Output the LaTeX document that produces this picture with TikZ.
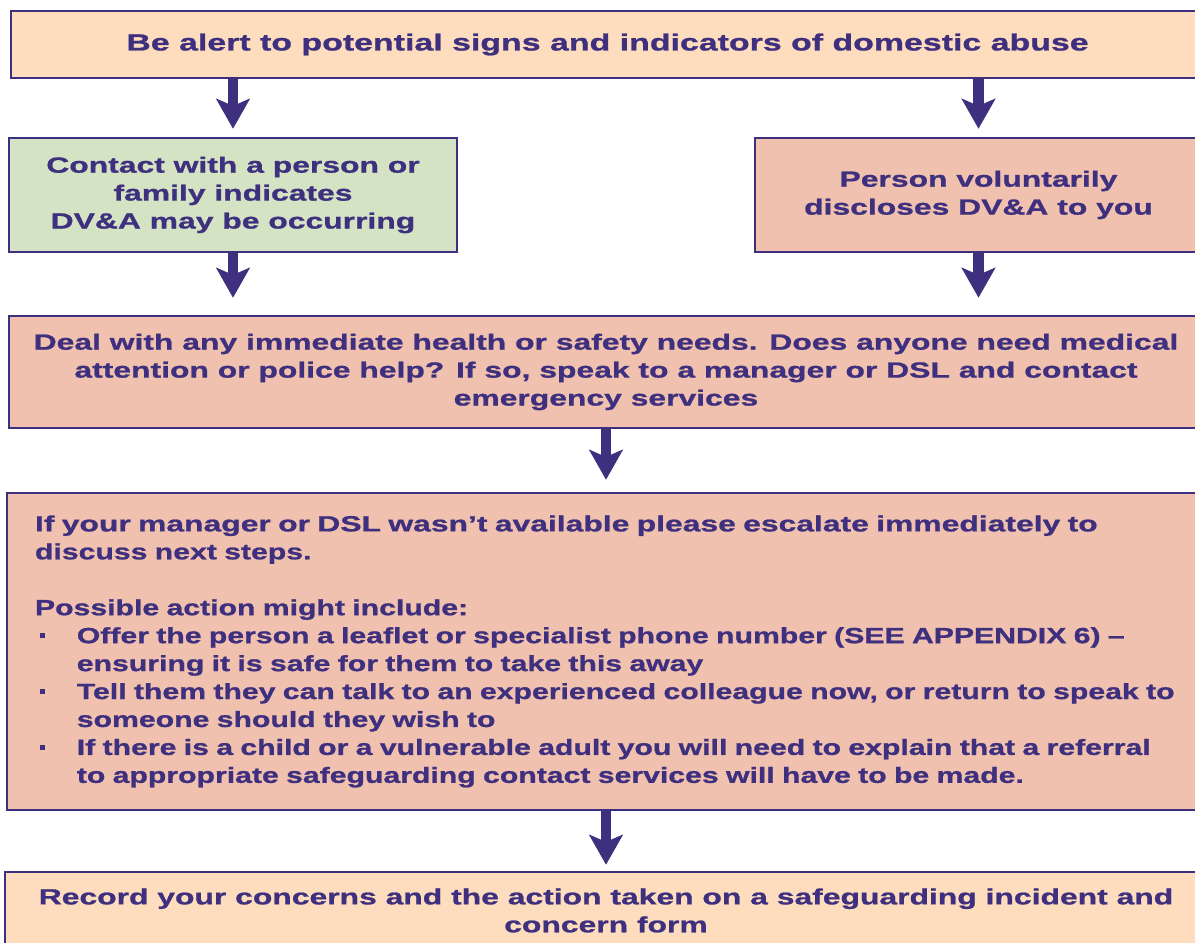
\documentclass[tikz,border=0pt]{standalone}
\usepackage{fontspec}
\newfontfamily\flowfont{Liberation Sans}[Ligatures=TeX, FakeStretch=1.45, FakeBold=1]
\newfontfamily\itemfont{Liberation Sans}[Ligatures=TeX, FakeStretch=1.375, FakeBold=1]
\usetikzlibrary{arrows.meta}
\definecolor{inkblue}{RGB}{62,48,126}
\definecolor{peach}{RGB}{253,221,190}
\definecolor{sage}{RGB}{212,227,196}
\definecolor{salmon}{RGB}{240,193,174}
\tikzset{
  stage/.style={draw=inkblue, line width=1.4pt, text=inkblue, align=center, inner sep=0pt,
    font=\flowfont\bfseries\fontsize{12.5}{15.9}\selectfont},
  flow/.style={draw=inkblue, line width=6pt, -{Stealth[width=19pt,length=17pt,inset=4pt]}},
}
\newcommand\bul{\makebox[23.8pt][l]{\hspace{3pt}\raisebox{0.22em}{\rule{2.8pt}{2.8pt}}}}
\newcommand\ind{\hspace*{23.8pt}}
\begin{document}
\begin{tikzpicture}
      \useasboundingbox (0,0) rectangle (23.9,18.86);
      \clip (0,0) rectangle (23.9,18.86);
      \node[stage, fill=peach, minimum width=23.86cm, minimum height=1.34cm,
        font=\flowfont\bfseries\fontsize{13.3}{15.9}\selectfont] (alert) at (12.15,17.97)
        {Be alert to potential signs and indicators of domestic abuse}; % top
      \node[stage, fill=sage, minimum width=8.96cm, minimum height=2.28cm] (contact) at (4.66,14.96)
        {Contact with a person or\\family indicates\\DV\&A may be occurring}; % left
      \node[stage, fill=salmon, minimum width=8.94cm, minimum height=2.28cm] (discl) at (19.57,14.96)
        {Person voluntarily\\discloses DV\&A to you}; % right
      \node[stage, fill=salmon, minimum width=23.88cm, minimum height=2.24cm] (deal) at (12.12,11.42)
        {Deal with any immediate health or safety needs. Does anyone need medical\\
         attention or police help? If so, speak to a manager or DSL and contact\\
         emergency services};
      \node[stage, fill=salmon, align=left, text width=23.6cm, inner xsep=0.56cm,
        minimum height=6.34cm] (ifyour) at (12.50,5.83)
        {If your manager or DSL wasn't available please escalate immediately to\\
         \itemfont discuss next steps.\\[15.9pt]
         Possible action might include:\\
         \bul Offer the person a leaflet or specialist phone number (SEE APPENDIX 6) --\\
         \ind ensuring it is safe for them to take this away\\
         \bul Tell them they can talk to an experienced colleague now, or return to speak to\\
         \ind someone should they wish to\\
         \bul If there is a child or a vulnerable adult you will need to explain that a referral\\
         \ind to appropriate safeguarding contact services will have to be made.};
      \node[stage, fill=peach, minimum width=24.04cm, minimum height=1.54cm] (record) at (12.12,0.65)
        {Record your concerns and the action taken on a safeguarding incident and\\concern form}; % bottom

      \draw[flow, shorten >=0.16cm] (alert.south -| contact.north) -- (contact.north);
      \draw[flow, shorten >=0.16cm] (alert.south -| discl.north) -- (discl.north);
      \draw[flow, shorten >=0.34cm] (contact.south) -- (contact.south |- deal.north);
      \draw[flow, shorten >=0.34cm] (discl.south) -- (discl.south |- deal.north);
      \draw[flow, shorten >=0.24cm] (deal.south) -- (deal.south |- ifyour.north);
      \draw[flow, shorten >=0.12cm] (ifyour.south -| record.north) -- (record.north);
    \end{tikzpicture}
\end{document}
